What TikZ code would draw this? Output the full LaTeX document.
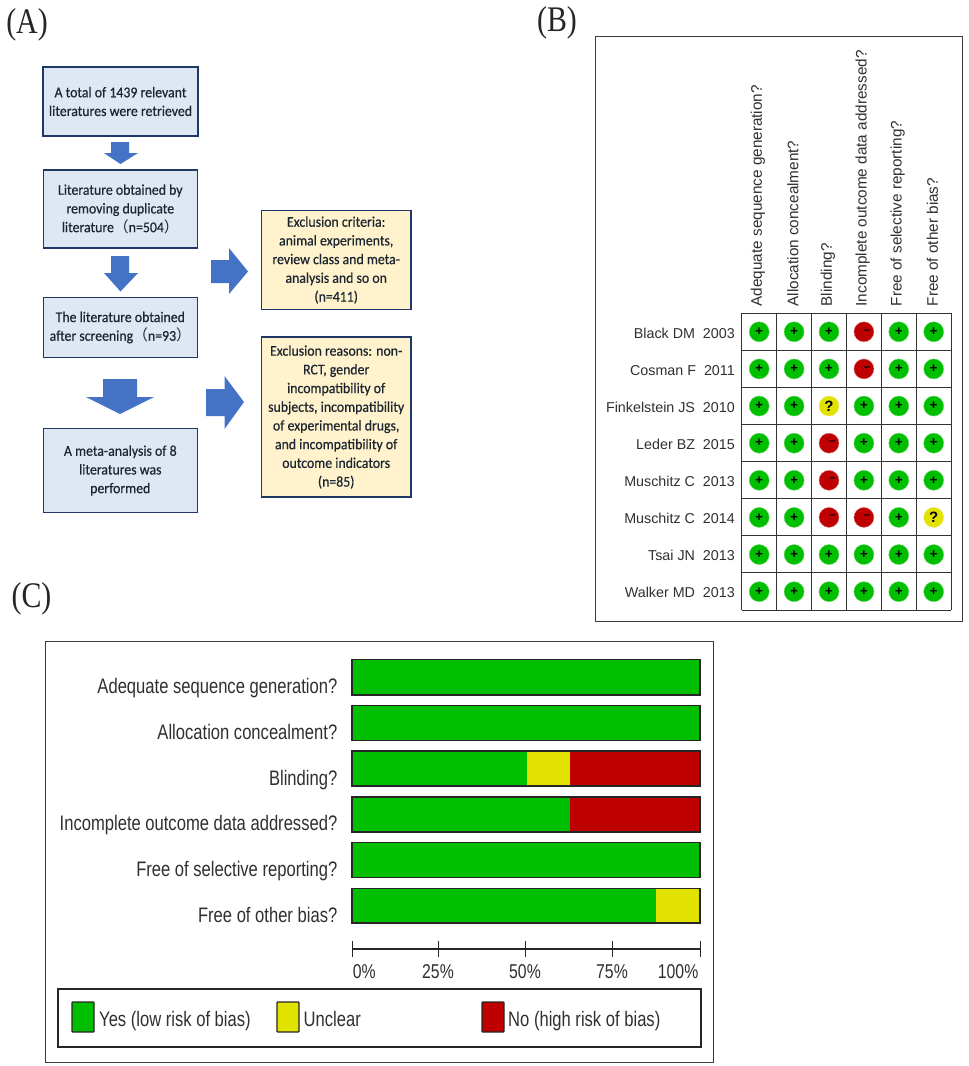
\documentclass[tikz,border=0pt]{standalone}
\usepackage{fontspec}
\setmainfont{Liberation Sans}
\newfontfamily\boxfont[FakeStretch=0.93,FakeBold=0.5]{Carlito}
\newfontfamily\cjkfont{Noto Sans CJK SC}
\newfontfamily\panelfont[FakeStretch=0.83]{Liberation Serif}
\newfontfamily\condfont[FakeStretch=0.79]{Liberation Sans}
\newcommand{\fwl}{{\cjkfont （}}
\newcommand{\fwr}{{\cjkfont ）}}
\definecolor{boxedge}{HTML}{1F3864}
\definecolor{bluefill}{HTML}{DEE8F4}
\definecolor{yellowfill}{HTML}{FFF2CC}
\definecolor{arrowblue}{HTML}{4472C4}
\definecolor{boxtext}{HTML}{1C2630}
\definecolor{rmgreen}{HTML}{00BF00}
\definecolor{rmyellow}{HTML}{E2E200}
\definecolor{rmred}{HTML}{BF0000}
\definecolor{frameline}{HTML}{3A3A3A}
\definecolor{labelgrey}{HTML}{303030}
\newcommand{\symbg}{\fontsize{13}{13}\selectfont\bfseries +}
\newcommand{\symby}{\fontsize{15}{15}\selectfont\bfseries ?}
\newcommand{\symbr}{\makebox[0pt]{\hspace{6.5pt}\raisebox{1pt}{\fontsize{11.5}{11.5}\selectfont\bfseries –}}}
\tikzset{
  x=1pt,y=-1pt,
  flowbase/.style={draw=boxedge,line width=1.3pt,text=boxtext,align=center,inner sep=0pt,
    font=\boxfont\fontsize{14.85}{18.7}\selectfont},
  bluebox/.style={flowbase,fill=bluefill},
  yellowbox/.style={flowbase,fill=yellowfill},
  blockarrow/.style={fill=arrowblue},
  panelname/.style={font=\panelfont\fontsize{36}{36}\selectfont,text=black!85,inner sep=0pt},
  frame/.style={draw=frameline,line width=1pt},
  gridline/.style={draw=black!80,line width=0.9pt},
  riskg/.style={circle,fill=rmgreen,draw=rmgreen!60,line width=.4pt,minimum size=20pt,inner sep=0pt},
  risky/.style={circle,fill=rmyellow,draw=rmyellow!60,line width=.4pt,minimum size=20pt,inner sep=0pt},
  riskr/.style={circle,fill=rmred,draw=rmred!50,line width=.4pt,minimum size=20pt,inner sep=0pt},
  studylabel/.style={anchor=east,inner sep=0pt,text=labelgrey,font=\fontsize{14.3}{14.3}\selectfont},
  domainlabel/.style={anchor=west,rotate=90,inner sep=0pt,text=labelgrey,font=\fontsize{15.3}{15.3}\selectfont},
  barlabel/.style={anchor=base east,inner sep=0pt,text=labelgrey,font=\condfont\fontsize{21}{21}\selectfont},
  ticklabel/.style={inner sep=0pt,text=labelgrey,font=\condfont\fontsize{20}{20}\selectfont},
  legendlabel/.style={anchor=base west,inner sep=0pt,text=labelgrey,font=\condfont\fontsize{21}{21}\selectfont},
  barbox/.style={draw=black!85,line width=1.2pt},
}
\begin{document}
\begin{tikzpicture}
\useasboundingbox (0,0) rectangle (969,1066);
\fill[white] (0,0) rectangle (969,1066);

% ---------- Panel A
\node[panelname] (panelA) at (27,25) {(A)};
\node[bluebox,minimum width=155pt,minimum height=69pt] (b1) at (120.5,101.5)
  {A total of 1439 relevant\\literatures were retrieved};
\node[bluebox,minimum width=154pt,minimum height=78pt] (b2) at (120.3,209)
  {Literature obtained by\\removing duplicate\\literature\fwl n=504\fwr};
\node[bluebox,minimum width=154pt,minimum height=60pt] (b3) at (120.3,327.5)
  {The literature obtained\\after screening\fwl n=93\fwr};
\node[bluebox,minimum width=154pt,minimum height=84pt] (b4) at (120.3,470.5)
  {A meta-analysis of 8\\literatures was\\performed};
\node[yellowbox,minimum width=149.5pt,minimum height=98.5pt] (y1) at (336.2,260)
  {Exclusion criteria:\\animal experiments,\\review class and meta-\\analysis and so on\\(n=411)};
\node[yellowbox,minimum width=149.5pt,minimum height=160pt] (y2) at (336.2,417)
  {Exclusion reasons: non-\\RCT, gender\\incompatibility of\\subjects, incompatibility\\of experimental drugs,\\and incompatibility of\\outcome indicators\\(n=85)};

\fill[blockarrow] (111,142) -- (129,142) -- (129,153) -- (138,153) -- (120.5,164) -- (104,153) -- (111,153) -- cycle;
\fill[blockarrow] (111,256) -- (129,256) -- (129,273) -- (138,273) -- (120.5,291.5) -- (104,273) -- (111,273) -- cycle;
\fill[blockarrow] (103,379) -- (137,379) -- (137,397) -- (154,397) -- (120,414) -- (86,397) -- (103,397) -- cycle;
\fill[blockarrow] (211,260) -- (229,260) -- (229,248) -- (248,271.5) -- (229,294) -- (229,283) -- (211,283) -- cycle;
\fill[blockarrow] (206,389) -- (224.5,389) -- (224.5,376) -- (244,402) -- (224.5,429) -- (224.5,416) -- (206,416) -- cycle;

% ---------- Panel B
\node[panelname] (panelB) at (557,23) {(B)};
\draw[frame] (595,36) rectangle (962,621);
\foreach \i in {0,...,6} \draw[gridline] ({741.7+34.9*\i},313) -- ({741.7+34.9*\i},610);
\foreach \i in {0,...,8} \draw[gridline] (741.7,{313+37.125*\i}) -- (951,{313+37.125*\i});

\foreach \lab [count=\c] in {Adequate sequence generation?,Allocation concealment?,Blinding?,Incomplete outcome data addressed?,Free of selective reporting?,Free of other bias?}
  \node[domainlabel] (dom\c) at ({758+34.9*(\c-1)},306.5) {\lab};

\foreach \lab/\vals [count=\r] in {
  Black DM\ \ 2003/{g,g,g,r,g,g},
  Cosman F\ \ 2011/{g,g,g,r,g,g},
  Finkelstein JS\ \ 2010/{g,g,y,g,g,g},
  Leder BZ\ \ 2015/{g,g,r,g,g,g},
  Muschitz C\ \ 2013/{g,g,r,g,g,g},
  Muschitz C\ \ 2014/{g,g,r,r,g,y},
  Tsai JN\ \ 2013/{g,g,g,g,g,g},
  Walker MD\ \ 2013/{g,g,g,g,g,g}}{
  \node[studylabel] (study\r) at (735,{333+37.125*(\r-1)}) {\lab};
  \foreach \v [count=\c] in \vals
    \node[risk\v] (cell\r-\c) at ({759.2+34.9*(\c-1)},{331.8+37.125*(\r-1)}) {\csname symb\v\endcsname};
}

% ---------- Panel C
\node[panelname] (panelC) at (31.5,599) {(C)};
\draw[frame] (45,641) rectangle (713,1062);

\foreach \lab/\ybase [count=\n] in {
  Adequate sequence generation?/693.5,
  Allocation concealment?/739.3,
  Blinding?/785.1,
  Incomplete outcome data addressed?/830.9,
  Free of selective reporting?/876.7,
  Free of other bias?/922.5}
  \node[barlabel] (q\n) at (337.5,\ybase) {\lab};

\fill[rmgreen] (352,659.5) rectangle (700,695);
\fill[rmgreen] (352,705.5) rectangle (700,740.5);
\fill[rmgreen] (352,751) rectangle (527,786);
\fill[rmyellow] (527,751) rectangle (570,786);
\fill[rmred] (570,751) rectangle (700,786);
\fill[rmgreen] (352,797) rectangle (570,832);
\fill[rmred] (570,797) rectangle (700,832);
\fill[rmgreen] (352,842.5) rectangle (700,877.5);
\fill[rmgreen] (352,888.5) rectangle (655.6,923);
\fill[rmyellow] (655.6,888.5) rectangle (700,923);
\draw[barbox] (352,659.5) rectangle (700,695);
\draw[barbox] (352,705.5) rectangle (700,740.5);
\draw[barbox] (352,751) rectangle (700,786);
\draw[barbox] (352,797) rectangle (700,832);
\draw[barbox] (352,842.5) rectangle (700,877.5);
\draw[barbox] (352,888.5) rectangle (700,923);

\draw[black!85,line width=1.1pt] (352,949) -- (700,949);
\foreach \tx in {352,438,525,612,700} \draw[black!85,line width=.9pt] (\tx,941) -- (\tx,957);
\node[ticklabel,anchor=base west] (t0) at (352.6,978) {0\%};
\node[ticklabel,anchor=base] (t25) at (438,978) {25\%};
\node[ticklabel,anchor=base] (t50) at (525,978) {50\%};
\node[ticklabel,anchor=base] (t75) at (612,978) {75\%};
\node[ticklabel,anchor=base east] (t100) at (698.5,978) {100\%};

\draw[black!85,line width=1.2pt] (58,989) rectangle (701,1047);
\draw[barbox,fill=rmgreen,rounded corners=.8pt] (72,1002) rectangle (94,1032);
\draw[barbox,fill=rmyellow,rounded corners=.8pt] (277,1002) rectangle (299,1032);
\draw[barbox,fill=rmred,rounded corners=.8pt] (482,1002) rectangle (504,1032);
\node[legendlabel] (l1) at (99,1026) {Yes (low risk of bias)};
\node[legendlabel] (l2) at (303.5,1026) {Unclear};
\node[legendlabel] (l3) at (508,1026) {No (high risk of bias)};
\end{tikzpicture}
\end{document}
